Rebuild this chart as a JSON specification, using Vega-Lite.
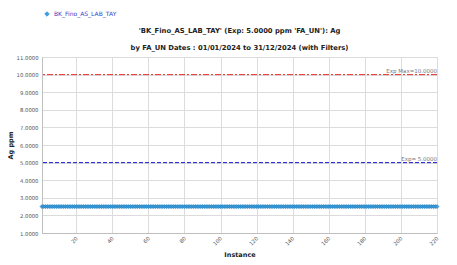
{
  "$schema": "https://vega.github.io/schema/vega-lite/v6.json",
  "autosize": {"type": "none"},
  "width": 395,
  "height": 176,
  "padding": {"left": 42, "top": 57, "right": 20, "bottom": 32},
  "background": "white",
  "config": {
    "font": "DejaVu Sans",
    "view": {"stroke": "#bfbfbf", "strokeWidth": 1},
    "axis": {"gridColor": "#dcdcdc", "domainColor": "#bfbfbf", "tickColor": "#bfbfbf", "labelColor": "#555555", "labelFontSize": 5.3, "titleFontSize": 6.5, "titleColor": "#222222", "titleFontWeight": "bold"}
  },
  "title": {
    "text": ["'BK_Fino_AS_LAB_TAY' (Exp: 5.0000 ppm 'FA_UN'): Ag", "by FA_UN Dates : 01/01/2024 to 31/12/2024 (with Filters)"],
    "fontSize": 6.8,
    "fontWeight": "bold",
    "color": "#222222",
    "lineHeight": 17,
    "offset": -41,
    "anchor": "middle"
  },
  "datasets": {
    "series": [
      {"Instance":1,"Ag":2.5},{"Instance":2,"Ag":2.5},{"Instance":3,"Ag":2.5},{"Instance":4,"Ag":2.5},{"Instance":5,"Ag":2.5},{"Instance":6,"Ag":2.5},{"Instance":7,"Ag":2.5},{"Instance":8,"Ag":2.5},{"Instance":9,"Ag":2.5},{"Instance":10,"Ag":2.5},
      {"Instance":11,"Ag":2.5},{"Instance":12,"Ag":2.5},{"Instance":13,"Ag":2.5},{"Instance":14,"Ag":2.5},{"Instance":15,"Ag":2.5},{"Instance":16,"Ag":2.5},{"Instance":17,"Ag":2.5},{"Instance":18,"Ag":2.5},{"Instance":19,"Ag":2.5},{"Instance":20,"Ag":2.5},
      {"Instance":21,"Ag":2.5},{"Instance":22,"Ag":2.5},{"Instance":23,"Ag":2.5},{"Instance":24,"Ag":2.5},{"Instance":25,"Ag":2.5},{"Instance":26,"Ag":2.5},{"Instance":27,"Ag":2.5},{"Instance":28,"Ag":2.5},{"Instance":29,"Ag":2.5},{"Instance":30,"Ag":2.5},
      {"Instance":31,"Ag":2.5},{"Instance":32,"Ag":2.5},{"Instance":33,"Ag":2.5},{"Instance":34,"Ag":2.5},{"Instance":35,"Ag":2.5},{"Instance":36,"Ag":2.5},{"Instance":37,"Ag":2.5},{"Instance":38,"Ag":2.5},{"Instance":39,"Ag":2.5},{"Instance":40,"Ag":2.5},
      {"Instance":41,"Ag":2.5},{"Instance":42,"Ag":2.5},{"Instance":43,"Ag":2.5},{"Instance":44,"Ag":2.5},{"Instance":45,"Ag":2.5},{"Instance":46,"Ag":2.5},{"Instance":47,"Ag":2.5},{"Instance":48,"Ag":2.5},{"Instance":49,"Ag":2.5},{"Instance":50,"Ag":2.5},
      {"Instance":51,"Ag":2.5},{"Instance":52,"Ag":2.5},{"Instance":53,"Ag":2.5},{"Instance":54,"Ag":2.5},{"Instance":55,"Ag":2.5},{"Instance":56,"Ag":2.5},{"Instance":57,"Ag":2.5},{"Instance":58,"Ag":2.5},{"Instance":59,"Ag":2.5},{"Instance":60,"Ag":2.5},
      {"Instance":61,"Ag":2.5},{"Instance":62,"Ag":2.5},{"Instance":63,"Ag":2.5},{"Instance":64,"Ag":2.5},{"Instance":65,"Ag":2.5},{"Instance":66,"Ag":2.5},{"Instance":67,"Ag":2.5},{"Instance":68,"Ag":2.5},{"Instance":69,"Ag":2.5},{"Instance":70,"Ag":2.5},
      {"Instance":71,"Ag":2.5},{"Instance":72,"Ag":2.5},{"Instance":73,"Ag":2.5},{"Instance":74,"Ag":2.5},{"Instance":75,"Ag":2.5},{"Instance":76,"Ag":2.5},{"Instance":77,"Ag":2.5},{"Instance":78,"Ag":2.5},{"Instance":79,"Ag":2.5},{"Instance":80,"Ag":2.5},
      {"Instance":81,"Ag":2.5},{"Instance":82,"Ag":2.5},{"Instance":83,"Ag":2.5},{"Instance":84,"Ag":2.5},{"Instance":85,"Ag":2.5},{"Instance":86,"Ag":2.5},{"Instance":87,"Ag":2.5},{"Instance":88,"Ag":2.5},{"Instance":89,"Ag":2.5},{"Instance":90,"Ag":2.5},
      {"Instance":91,"Ag":2.5},{"Instance":92,"Ag":2.5},{"Instance":93,"Ag":2.5},{"Instance":94,"Ag":2.5},{"Instance":95,"Ag":2.5},{"Instance":96,"Ag":2.5},{"Instance":97,"Ag":2.5},{"Instance":98,"Ag":2.5},{"Instance":99,"Ag":2.5},{"Instance":100,"Ag":2.5},
      {"Instance":101,"Ag":2.5},{"Instance":102,"Ag":2.5},{"Instance":103,"Ag":2.5},{"Instance":104,"Ag":2.5},{"Instance":105,"Ag":2.5},{"Instance":106,"Ag":2.5},{"Instance":107,"Ag":2.5},{"Instance":108,"Ag":2.5},{"Instance":109,"Ag":2.5},{"Instance":110,"Ag":2.5},
      {"Instance":111,"Ag":2.5},{"Instance":112,"Ag":2.5},{"Instance":113,"Ag":2.5},{"Instance":114,"Ag":2.5},{"Instance":115,"Ag":2.5},{"Instance":116,"Ag":2.5},{"Instance":117,"Ag":2.5},{"Instance":118,"Ag":2.5},{"Instance":119,"Ag":2.5},{"Instance":120,"Ag":2.5},
      {"Instance":121,"Ag":2.5},{"Instance":122,"Ag":2.5},{"Instance":123,"Ag":2.5},{"Instance":124,"Ag":2.5},{"Instance":125,"Ag":2.5},{"Instance":126,"Ag":2.5},{"Instance":127,"Ag":2.5},{"Instance":128,"Ag":2.5},{"Instance":129,"Ag":2.5},{"Instance":130,"Ag":2.5},
      {"Instance":131,"Ag":2.5},{"Instance":132,"Ag":2.5},{"Instance":133,"Ag":2.5},{"Instance":134,"Ag":2.5},{"Instance":135,"Ag":2.5},{"Instance":136,"Ag":2.5},{"Instance":137,"Ag":2.5},{"Instance":138,"Ag":2.5},{"Instance":139,"Ag":2.5},{"Instance":140,"Ag":2.5},
      {"Instance":141,"Ag":2.5},{"Instance":142,"Ag":2.5},{"Instance":143,"Ag":2.5},{"Instance":144,"Ag":2.5},{"Instance":145,"Ag":2.5},{"Instance":146,"Ag":2.5},{"Instance":147,"Ag":2.5},{"Instance":148,"Ag":2.5},{"Instance":149,"Ag":2.5},{"Instance":150,"Ag":2.5},
      {"Instance":151,"Ag":2.5},{"Instance":152,"Ag":2.5},{"Instance":153,"Ag":2.5},{"Instance":154,"Ag":2.5},{"Instance":155,"Ag":2.5},{"Instance":156,"Ag":2.5},{"Instance":157,"Ag":2.5},{"Instance":158,"Ag":2.5},{"Instance":159,"Ag":2.5},{"Instance":160,"Ag":2.5},
      {"Instance":161,"Ag":2.5},{"Instance":162,"Ag":2.5},{"Instance":163,"Ag":2.5},{"Instance":164,"Ag":2.5},{"Instance":165,"Ag":2.5},{"Instance":166,"Ag":2.5},{"Instance":167,"Ag":2.5},{"Instance":168,"Ag":2.5},{"Instance":169,"Ag":2.5},{"Instance":170,"Ag":2.5},
      {"Instance":171,"Ag":2.5},{"Instance":172,"Ag":2.5},{"Instance":173,"Ag":2.5},{"Instance":174,"Ag":2.5},{"Instance":175,"Ag":2.5},{"Instance":176,"Ag":2.5},{"Instance":177,"Ag":2.5},{"Instance":178,"Ag":2.5},{"Instance":179,"Ag":2.5},{"Instance":180,"Ag":2.5},
      {"Instance":181,"Ag":2.5},{"Instance":182,"Ag":2.5},{"Instance":183,"Ag":2.5},{"Instance":184,"Ag":2.5},{"Instance":185,"Ag":2.5},{"Instance":186,"Ag":2.5},{"Instance":187,"Ag":2.5},{"Instance":188,"Ag":2.5},{"Instance":189,"Ag":2.5},{"Instance":190,"Ag":2.5},
      {"Instance":191,"Ag":2.5},{"Instance":192,"Ag":2.5},{"Instance":193,"Ag":2.5},{"Instance":194,"Ag":2.5},{"Instance":195,"Ag":2.5},{"Instance":196,"Ag":2.5},{"Instance":197,"Ag":2.5},{"Instance":198,"Ag":2.5},{"Instance":199,"Ag":2.5},{"Instance":200,"Ag":2.5},
      {"Instance":201,"Ag":2.5},{"Instance":202,"Ag":2.5},{"Instance":203,"Ag":2.5},{"Instance":204,"Ag":2.5},{"Instance":205,"Ag":2.5},{"Instance":206,"Ag":2.5},{"Instance":207,"Ag":2.5},{"Instance":208,"Ag":2.5},{"Instance":209,"Ag":2.5},{"Instance":210,"Ag":2.5},
      {"Instance":211,"Ag":2.5},{"Instance":212,"Ag":2.5},{"Instance":213,"Ag":2.5},{"Instance":214,"Ag":2.5},{"Instance":215,"Ag":2.5},{"Instance":216,"Ag":2.5},{"Instance":217,"Ag":2.5},{"Instance":218,"Ag":2.5},{"Instance":219,"Ag":2.5},{"Instance":220,"Ag":2.5}
    ],
    "limits": [
      {"y": 10, "label": "Exp Max=10.0000"},
      {"y": 5, "label": "Exp= 5.0000"}
    ]
  },
  "layer": [
    {
      "data": {"name": "series"},
      "mark": {"type": "line", "strokeWidth": 1, "point": {"shape": "diamond", "filled": true, "size": 16, "stroke": "#1f78b4", "strokeWidth": 0.6}},
      "encoding": {
        "x": {"field": "Instance", "type": "quantitative", "title": "Instance",
              "scale": {"domain": [1, 220], "nice": false, "zero": false},
              "axis": {"values": [20, 40, 60, 80, 100, 120, 140, 160, 180, 200, 220], "tickCount": 30, "labelOverlap": false, "labelAngle": -45, "labelAlign": "right", "labelBaseline": "middle", "ticks": false, "labelPadding": 4, "titlePadding": 5}},
        "y": {"field": "Ag", "type": "quantitative", "title": "Ag ppm",
              "scale": {"domain": [1, 11], "nice": false, "zero": false},
              "axis": {"values": [1, 2, 3, 4, 5, 6, 7, 8, 9, 10, 11], "tickCount": 30, "labelOverlap": false, "format": ".4f", "ticks": false, "labelPadding": 4, "titlePadding": 3}},
        "color": {"datum": "BK_Fino_AS_LAB_TAY", "type": "nominal",
                  "scale": {"range": ["#3d9ee0"]},
                  "legend": {"title": null, "orient": "none", "legendX": 2, "legendY": -46, "labelColor": "#3344cc", "labelFontSize": 6, "symbolType": "diamond", "symbolSize": 20, "symbolStrokeWidth": 1}}
      }
    },
    {
      "data": {"name": "limits"},
      "transform": [{"filter": "datum.y == 10"}],
      "mark": {"type": "rule", "color": "#e8302c", "strokeWidth": 1, "strokeDash": [6, 2, 2, 2]},
      "encoding": {"y": {"field": "y", "type": "quantitative"}}
    },
    {
      "data": {"name": "limits"},
      "transform": [{"filter": "datum.y == 5"}],
      "mark": {"type": "rule", "color": "#1a1ad4", "strokeWidth": 1, "strokeDash": [4, 2]},
      "encoding": {"y": {"field": "y", "type": "quantitative"}}
    },
    {
      "data": {"name": "limits"},
      "mark": {"type": "text", "align": "right", "baseline": "bottom", "dy": -1, "fontSize": 5.5, "color": "#777777"},
      "encoding": {
        "x": {"datum": 220},
        "y": {"field": "y", "type": "quantitative"},
        "text": {"field": "label"}
      }
    }
  ]
}
